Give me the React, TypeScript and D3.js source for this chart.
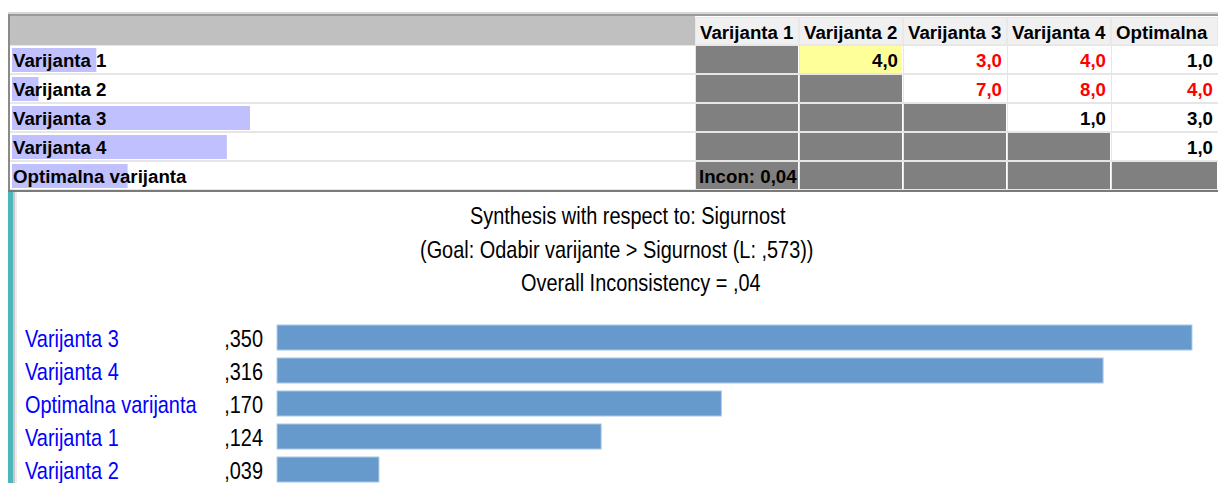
import React from "react";
import * as d3 from "d3";

const W = 1218;
const H = 483;

const alternatives = ["Varijanta 1", "Varijanta 2", "Varijanta 3", "Varijanta 4", "Optimalna varijanta"];
const columnHeaders = ["Varijanta 1", "Varijanta 2", "Varijanta 3", "Varijanta 4", "Optimalna"];
const priorities = [0.124, 0.039, 0.35, 0.316, 0.17];

// pairwise matrix: null = gray (not editable) cell
const matrixValues: (number | null)[][] = [
  [null, 4.0, 3.0, 4.0, 1.0],
  [null, null, 7.0, 8.0, 4.0],
  [null, null, null, 1.0, 3.0],
  [null, null, null, null, 1.0],
  [null, null, null, null, null],
];
const matrixInverted: boolean[][] = [
  [false, false, true, true, false],
  [false, false, true, true, true],
  [false, false, false, false, false],
  [false, false, false, false, false],
  [false, false, false, false, false],
];
const selectedCell = [0, 1];
const inconsistencyText = "Incon: 0,04";

const titleLines = [
  "Synthesis with respect to: Sigurnost",
  "(Goal: Odabir varijante > Sigurnost (L: ,573))",
  "Overall Inconsistency = ,04",
];

const synthLabels = ["Varijanta 3", "Varijanta 4", "Optimalna varijanta", "Varijanta 1", "Varijanta 2"];
const synthValues = [0.35, 0.316, 0.17, 0.124, 0.039];
const synthValueText = [",350", ",316", ",170", ",124", ",039"];

const fmt = (v: number) => v.toFixed(1).replace(".", ",");

export default function App() {
  // table geometry
  const tableLeft = 10;
  const headerTop = 17;
  const headerBottom = 45;
  const rowH = 29;
  const colStart = 695;
  const colW = 104;
  const colX = (j: number) => colStart + j * colW;
  const colRight = (j: number) => (j === columnHeaders.length - 1 ? W : colX(j + 1));
  const rowY = (i: number) => headerBottom + i * rowH;
  const tableBottom = rowY(alternatives.length);
  const tfs = 18.7;

  const labelBar = d3.scaleLinear().domain([0, 0.35]).range([0, 238]);

  // synthesis chart geometry
  const x = d3.scaleLinear().domain([0, 0.35]).range([277, 1192]);
  const y = d3
    .scaleBand<string>()
    .domain(synthLabels)
    .range([321, 321 + 33 * synthLabels.length])
    .paddingInner(0.24)
    .paddingOuter(0.12);

  const chartFont = "'Liberation Sans', Arial, sans-serif";
  const sx = 0.83;
  const titleX = [470, 420, 521];

  return (
    <svg
      width={W}
      height={H}
      style={{ position: "fixed", left: 0, top: 0, background: "#fff" }}
      fontFamily="'Liberation Sans', Arial, sans-serif"
    >
      <rect x={0} y={0} width={W} height={H} fill="#ffffff" />
      {/* table frame */}
      <rect x={8} y={12} width={W - 8} height={2} fill="#d8d8d8" />
      <rect x={8} y={14} width={W - 8} height={2} fill="#9a9a9a" />
      <rect x={8} y={14} width={2} height={tableBottom - 14} fill="#8a8a8a" />
      {/* header */}
      <rect x={tableLeft} y={headerTop - 1} width={colStart - tableLeft} height={headerBottom - headerTop + 1} fill="#c0c0c0" />
      {columnHeaders.map((h, j) => (
        <g key={"h" + j}>
          <rect x={colX(j)} y={headerTop} width={colRight(j) - colX(j)} height={headerBottom - headerTop} fill="#e8e8e8" />
          <rect x={colX(j) + 1} y={headerTop + 1} width={colRight(j) - colX(j) - 2} height={headerBottom - headerTop - 2} fill="#f0f0f0" />
          <text x={colX(j) + 5} y={headerBottom - 6} fontSize={tfs} fontWeight="bold" fill="#000">
            {h}
          </text>
        </g>
      ))}
      {/* rows */}
      {alternatives.map((a, i) => (
        <g key={"r" + i}>
          <rect x={tableLeft} y={rowY(i)} width={W - tableLeft} height={rowH} fill="#e6e6e6" />
          <rect x={tableLeft} y={rowY(i) + 1} width={W - tableLeft} height={rowH - 2} fill="#ffffff" />
          <rect x={12} y={rowY(i) + 3} width={labelBar(priorities[i])} height={rowH - 5} fill="#c0c0ff" />
          <text x={13} y={rowY(i) + 22} fontSize={tfs} fontWeight="bold" fill="#000">
            {a}
          </text>
          {columnHeaders.map((_, j) => {
            const v = matrixValues[i][j];
            const x0 = colX(j);
            const w = colRight(j) - x0;
            const isSel = selectedCell[0] === i && selectedCell[1] === j;
            return (
              <g key={"c" + j}>
                <rect x={x0} y={rowY(i)} width={1} height={rowH} fill="#e6e6e6" />
                {v === null ? (
                  <rect x={x0 + 1} y={rowY(i) + 1} width={w - 2} height={rowH - 2} fill="#808080" />
                ) : isSel ? (
                  <rect x={x0 + 1} y={rowY(i) + 1} width={w - 2} height={rowH - 2} fill="#ffff99" />
                ) : null}
                {v !== null && (
                  <text
                    x={Math.min(x0 + w, W) - 5}
                    y={rowY(i) + 22}
                    fontSize={tfs}
                    fontWeight="bold"
                    textAnchor="end"
                    fill={matrixInverted[i][j] ? "#ff0000" : "#000"}
                  >
                    {fmt(v)}
                  </text>
                )}
                {i === alternatives.length - 1 && j === 0 && (
                  <text x={x0 + 4} y={rowY(i) + 22} fontSize={tfs} fontWeight="bold" fill="#000">
                    {inconsistencyText}
                  </text>
                )}
              </g>
            );
          })}
        </g>
      ))}
      <rect x={8} y={tableBottom} width={W - 8} height={2} fill="#7a7a7a" />

      {/* left strip of chart pane */}
      <rect x={8} y={tableBottom + 2} width={5} height={H - tableBottom} fill="#4fb5bd" />
      <rect x={13} y={tableBottom + 2} width={2} height={H - tableBottom} fill="#c8c8c8" />
      <rect x={15} y={tableBottom + 2} width={2} height={H - tableBottom} fill="#ececec" />

      {/* titles */}
      {titleLines.map((t, k) => (
        <text
          key={"t" + k}
          transform={`translate(${titleX[k]},${224 + 33.5 * k}) scale(${sx},1)`}
          fontSize={24}
          fontFamily={chartFont}
          fill="#000"
        >
          {t}
        </text>
      ))}

      {/* bars */}
      {synthLabels.map((lab, i) => {
        const yy = y(lab)!;
        const bh = y.bandwidth();
        return (
          <g key={"b" + i}>
            <text
              transform={`translate(25,${yy + bh - 3}) scale(${sx},1)`}
              fontSize={24}
              fontFamily={chartFont}
              fill="#0000ff"
            >
              {lab}
            </text>
            <text
              transform={`translate(263,${yy + bh - 3}) scale(${sx},1)`}
              fontSize={24}
              fontFamily={chartFont}
              textAnchor="end"
              fill="#000"
            >
              {synthValueText[i]}
            </text>
            <rect
              x={x(0)}
              y={yy}
              width={x(synthValues[i]) - x(0)}
              height={bh}
              fill="#6699cc"
              stroke="#b4cde8"
              strokeWidth={1}
            />
          </g>
        );
      })}
    </svg>
  );
}
